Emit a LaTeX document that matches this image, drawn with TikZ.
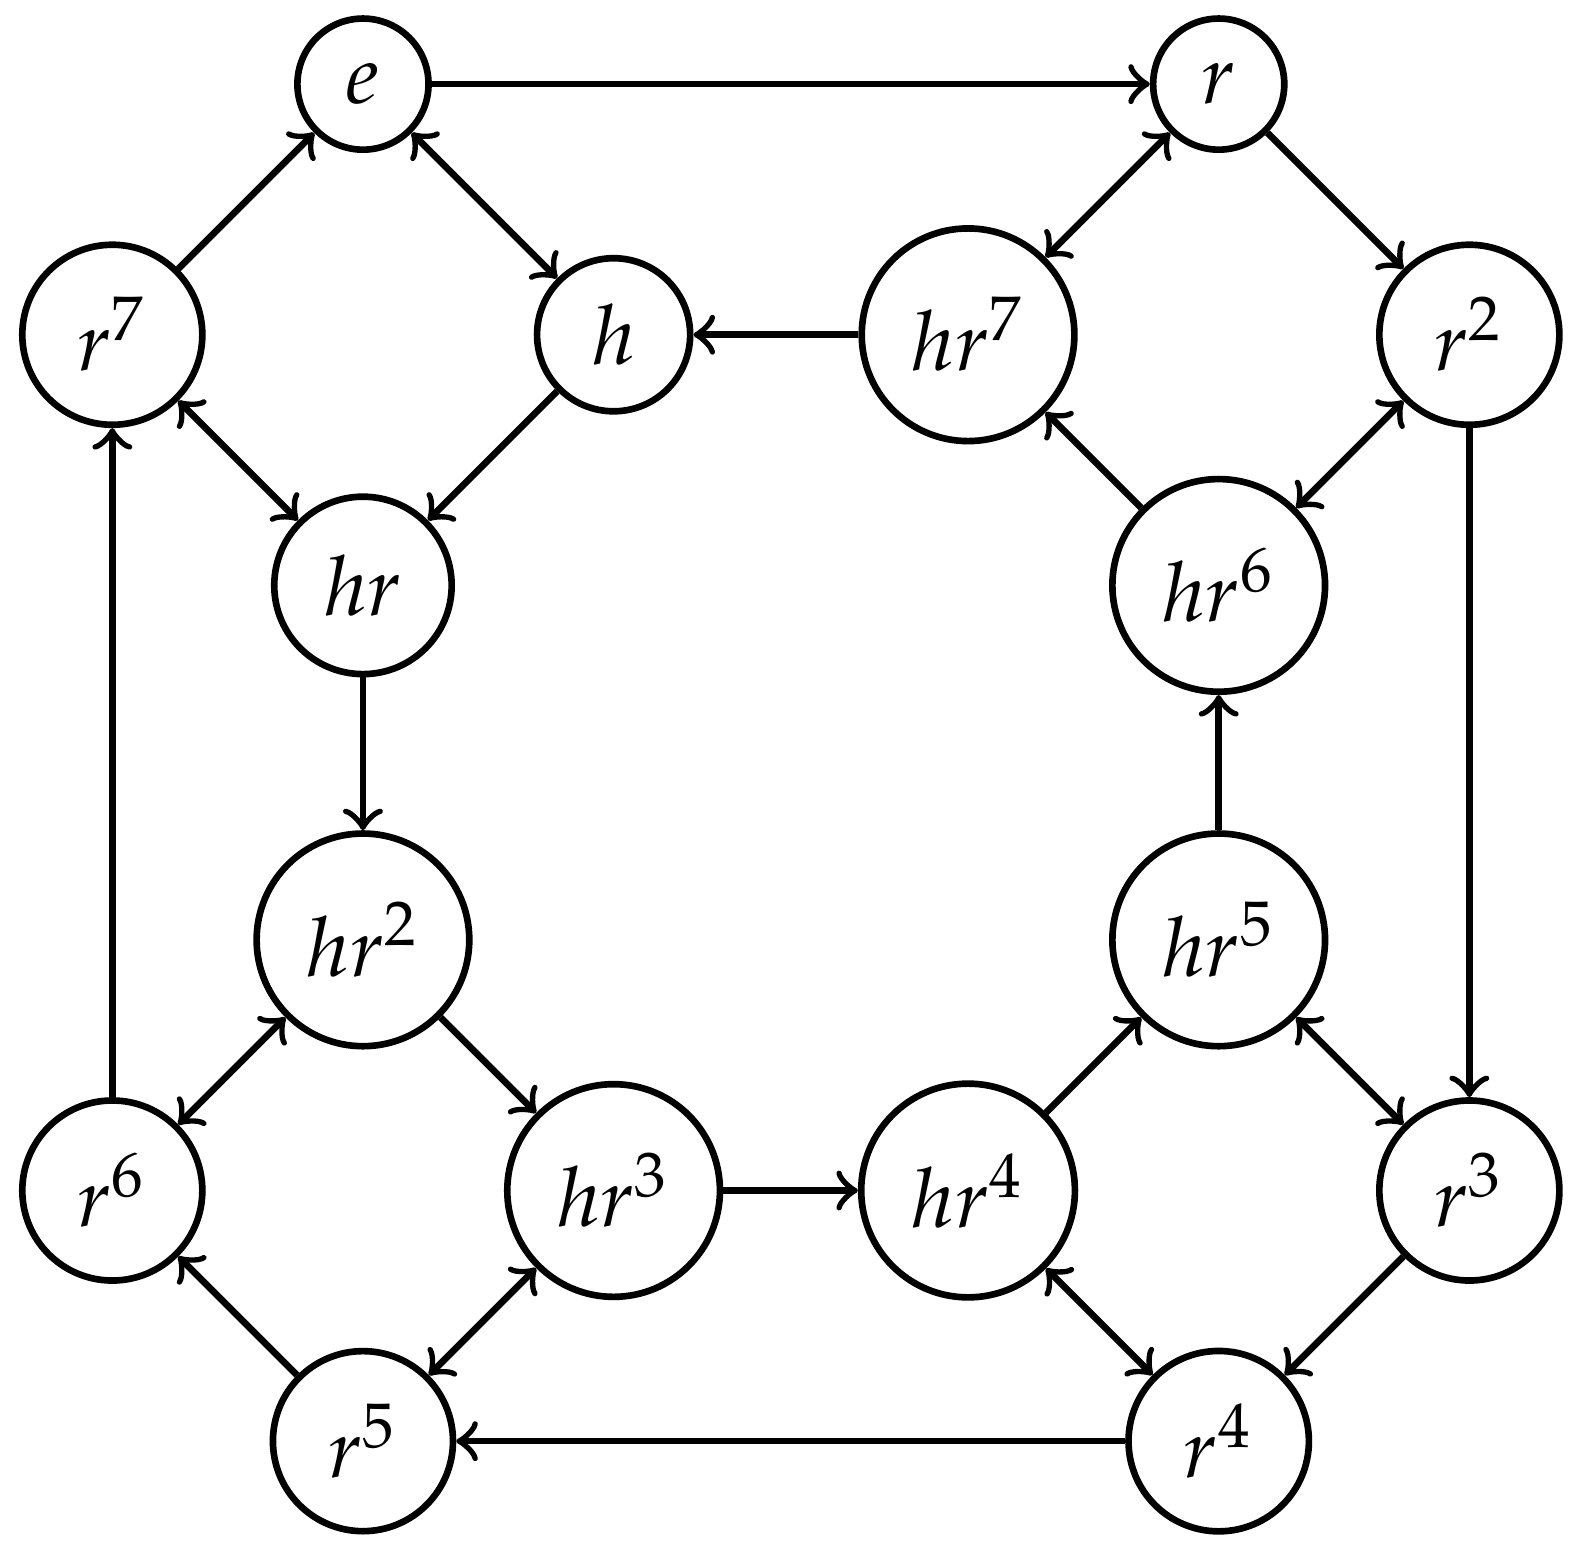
\documentclass[tikz,border=0pt]{standalone}
\usepackage{mathpazo}
\usepackage{tikz}

\begin{document}
\begin{tikzpicture}[node distance=1.5cm,thick,every node/.style={circle,draw}]
      \useasboundingbox (-1.536,0.356) rectangle (5.167,-6.217);
      \node (e) {$e$};
      \node (h) [below right of=e] {$h$};
      \node (r7) [below left of=e] {$r^7$};
      \node (hr) [below right of=r7] {$hr$};
      \node (hr7) [right of=h] {$hr^7$};
      \node (r) [above right of=hr7] {$r$};
      \node (r2) [below right of=r] {$r^2$};
      \node (hr6) [below left of=r2] {$hr^6$};
      \node (hr2) [below of=hr] {$hr^2$};
      \node (hr5) [below of=hr6] {$hr^5$};
      \node (r6) [below left of=hr2] {$r^6$};
      \node (hr3) [below right of=hr2] {$hr^3$};
      \node (hr4) [right of=hr3] {$hr^4$};
      \node (r3) [below right of=hr5] {$r^3$};
      \node (r5) [below right of=r6] {$r^5$};
      \node (r4) [below left of=r3] {$r^4$};
      % rotations
      \draw[->] (e) -- (r);
      \draw[->] (r) -- (r2);
      \draw[->] (r2) -- (r3);
      \draw[->] (r3) -- (r4);
      \draw[->] (r4) -- (r5);
      \draw[->] (r5) -- (r6);
      \draw[->] (r6) -- (r7);
      \draw[->] (r7) -- (e);
      \draw[->] (h) -- (hr);
      \draw[->] (hr) -- (hr2);
      \draw[->] (hr2) -- (hr3);
      \draw[->] (hr3) -- (hr4);
      \draw[->] (hr4) -- (hr5);
      \draw[->] (hr5) -- (hr6);
      \draw[->] (hr6) -- (hr7);
      \draw[->] (hr7) -- (h);
      % reflections
      \draw[<->] (e) -- (h);
      \draw[<->] (r) -- (hr7);
      \draw[<->] (r2) -- (hr6);
      \draw[<->] (r3) -- (hr5);
      \draw[<->] (r4) -- (hr4);
      \draw[<->] (r5) -- (hr3);
      \draw[<->] (r6) -- (hr2);
      \draw[<->] (r7) -- (hr);
    \end{tikzpicture}
\end{document}
